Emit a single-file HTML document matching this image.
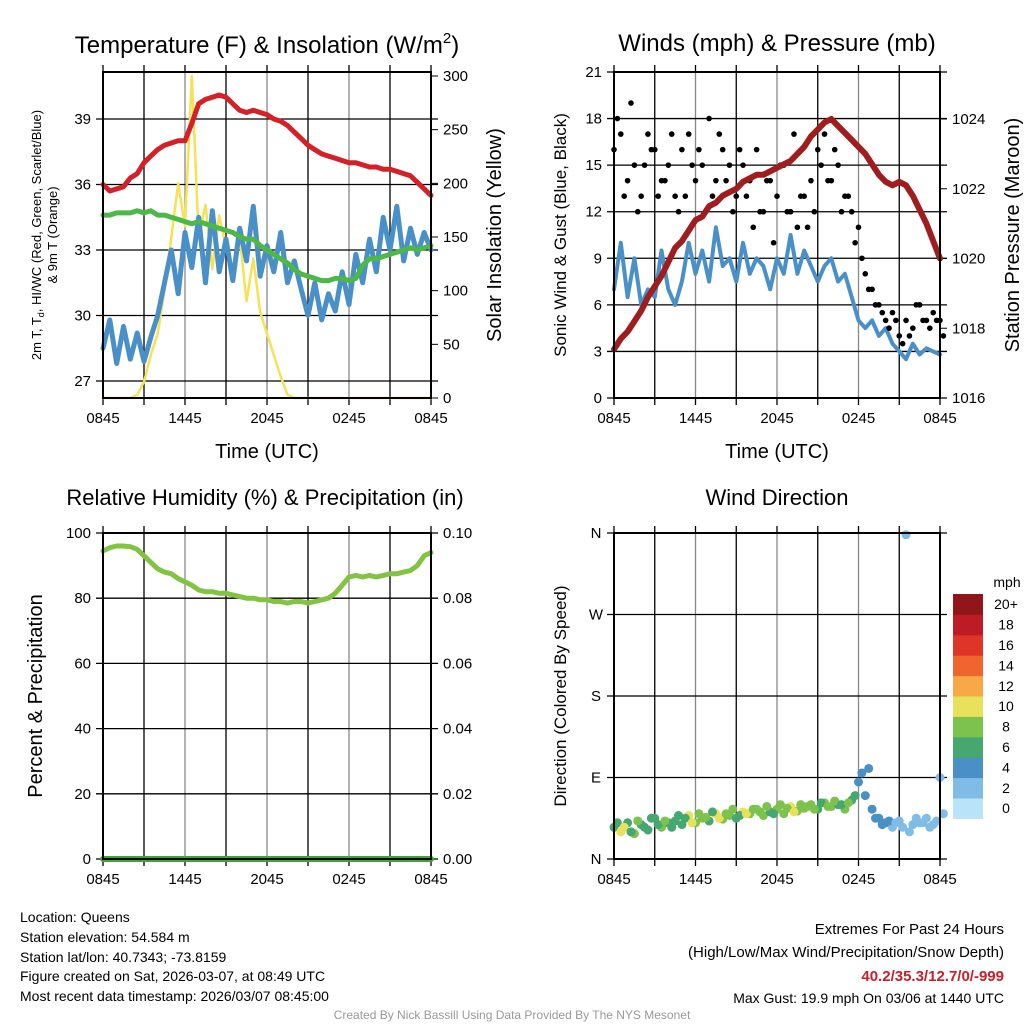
<!DOCTYPE html>
<html><head><meta charset="utf-8"><style>
body{margin:0;background:#fff;}
svg text{font-family:"Liberation Sans",Arial,sans-serif;fill:#000;}
</style></head><body>
<svg id="c" width="1024" height="1024" xmlns="http://www.w3.org/2000/svg"></svg>
<script>
const temp=[36.0,35.7,35.8,35.9,36.3,36.5,37.0,37.3,37.6,37.8,37.9,38.0,38.0,38.8,39.7,39.9,40.0,40.1,40.0,39.7,39.4,39.3,39.4,39.3,39.2,39.0,38.9,38.7,38.4,38.1,37.8,37.6,37.4,37.3,37.2,37.1,37.0,37.0,36.9,36.8,36.8,36.7,36.7,36.6,36.5,36.4,36.1,35.8,35.5];
const dewp=[34.6,34.6,34.7,34.7,34.7,34.8,34.7,34.8,34.6,34.6,34.5,34.4,34.3,34.2,34.3,34.2,34.1,34.0,33.9,33.8,33.6,33.5,33.5,33.2,33.0,32.8,32.6,32.4,32.1,31.9,31.8,31.7,31.6,31.6,31.7,31.7,31.6,31.7,32.3,32.6,32.6,32.7,32.8,32.9,33.0,33.1,33.0,33.1,33.2];
const chill=[28.5,29.8,27.8,29.5,28.0,29.2,27.9,29.0,30.0,31.5,33.0,31.0,33.8,32.2,34.5,31.5,34.8,32.0,33.5,31.6,34.0,32.5,35.0,31.8,33.2,32.0,33.8,31.5,32.5,31.2,30.0,31.5,29.8,31.0,30.2,32.0,30.5,32.8,31.5,33.5,32.0,34.5,33.0,35.0,32.5,34.0,32.8,33.8,33.0];
const solar=[0,0,0,0,0,3,15,40,60,100,150,200,160,300,150,180,120,170,140,110,150,90,130,80,60,40,20,3,0,0,0,0,0,0,0,0,0,0,0,0,0,0,0,0,0,0,0,0,0];
const wind=[7,10,6.5,9,6,7,6.5,9.5,7,6,7.5,10,8,9.5,7.5,11,8.5,9,7.5,10,8,9,8.5,7,9,8,10.5,8,9.5,8.5,7.5,8.5,9,7.5,8,6.5,5,4.5,5,4,4.5,3.5,3,2.5,3.5,2.8,3.2,3,2.8];
const gustA=[16,17,14,15,13,17,16,14,15,13,16,17,14,15,18,14,16,15,13,15,14,16,12,14,13,15,12,11,13,14,16,17,14,15,13,12,11,8,7,6,5,5.5,4,5,4.5,6,5,5.5,5];
const gustB=[18,13,19,12,15,16,13,14,17,12,13,15,16,12,13,17,14,12,16,13,11,12,14,10,15,12,17,13,11,12,15,14,16,12,13,10,9,7,6,5.5,4.5,5,3.5,4,6,5,4.5,5,4];
const pres=[1017.4,1017.7,1017.9,1018.2,1018.5,1018.9,1019.2,1019.5,1019.9,1020.3,1020.5,1020.8,1021.1,1021.2,1021.5,1021.6,1021.8,1021.9,1022.0,1022.2,1022.3,1022.4,1022.4,1022.5,1022.6,1022.7,1022.8,1023.0,1023.2,1023.5,1023.7,1023.9,1024.0,1023.8,1023.6,1023.4,1023.2,1023.0,1022.7,1022.4,1022.2,1022.1,1022.2,1022.1,1021.8,1021.4,1021.0,1020.5,1020.0];
const rh=[94.5,95.5,96,96,95.8,95,93,91,89,88,87.5,86,85,84,82.5,82,82,81.5,81.5,81,80.5,80,80,79.5,79.5,79,79,78.5,79,79,78.5,79,79.5,80,81.5,84,86.5,87,86.5,87,86.5,87,87.5,87.5,88,88.5,90,93,94];
const precip=new Array(49).fill(0);
const dirA=[35,30,40,28,38,32,45,35,40,42,38,48,40,45,42,50,44,48,45,52,50,55,48,52,55,50,58,53,56,60,55,62,58,60,55,65,85,70,55,45,40,35,42,358,38,40,45,38,90];
const dirB=[40,35,30,42,35,45,38,42,35,48,45,40,50,46,52,45,50,55,48,50,55,52,58,50,60,56,52,60,58,55,62,58,64,60,62,70,95,100,45,38,42,40,35,30,45,40,35,42,50];
const hours=[0,3,6,9,12,15,18,21,24];
const hourLabels=["0845","1445","2045","0245","0845"];
const tTicks=[27,30,33,36,39];
const sTicks=[0,50,100,150,200,250,300];
const wTicks=[0,3,6,9,12,15,18,21];
const pTicks=[1016,1018,1020,1022,1024];
const rhTicks=[0,20,40,60,80,100];
const prTicks=["0.00","0.02","0.04","0.06","0.08","0.10"];
const dirTicks=["N","E","S","W","N"];
const cbLabels=["0","2","4","6","8","10","12","14","16","18","20+"];
const cbColors=["#b8e3f8","#80bde6","#4a8fc6","#47a770","#7cc24c","#e8e15c","#f7a945","#f0652e","#de3528","#bd1c25","#901619"];

const NS="http://www.w3.org/2000/svg";
const svg=document.getElementById('c');
function el(tag,attrs,parent,text){const e=document.createElementNS(NS,tag);for(const k in attrs)e.setAttribute(k,attrs[k]);if(text!==undefined)e.textContent=text;(parent||svg).appendChild(e);return e;}
function lin(d0,d1,r0,r1){return v=>r0+(v-d0)/(d1-d0)*(r1-r0);}
function txt(x,y,s,size,anchor,name,rot,extra){const a={x:x,y:y,'font-size':size,'text-anchor':anchor||'middle'};if(rot)a.transform=`rotate(${rot} ${x} ${y})`;if(extra)Object.assign(a,extra);const t=el('text',a,svg,s);return t;}

function frame(x0,y0,x1,y1,name){
  const g=el('g',{});
  const xs=lin(0,24,x0,x1);
  hours.forEach((h,i)=>{const X=xs(h);el('line',{x1:X,y1:y0,x2:X,y2:y1,stroke:(i%2==0)?'#888':'#000','stroke-width':1.3},g);
    el('line',{x1:X,y1:y1,x2:X,y2:y1+7,stroke:'#000','stroke-width':1.3},g);el('line',{x1:X,y1:y0,x2:X,y2:y0-7,stroke:'#000','stroke-width':1.3},g);});
  hourLabels.forEach((l,i)=>{txt(xs(i*6),y1+25,l,15,'middle','x-tick-label');});
  return {g,xs};
}
function hgrid(g,x0,x1,Y){el('line',{x1:x0-7,y1:Y,x2:x1+7,y2:Y,stroke:'#000','stroke-width':1.3},g);}
function border(g,x0,y0,x1,y1){el('rect',{x:x0,y:y0,width:x1-x0,height:y1-y0,fill:'none',stroke:'#000','stroke-width':2},g);}
function line(g,xs,ys,arr,color,w,name){const p=el('polyline',{points:arr.map((v,i)=>xs(i*0.5).toFixed(1)+','+ys(v).toFixed(1)).join(' '),fill:'none',stroke:color,'stroke-width':w,'stroke-linejoin':'round','stroke-linecap':'round'},g);}

// Panel 1
(function(){const x0=103,y0=72,x1=431,y1=398;const {g,xs}=frame(x0,y0,x1,y1,'temperature-panel');
 const ty=lin(27,39,381,119), sy=lin(0,300,398,76);
 tTicks.forEach(v=>{hgrid(g,x0,x1,ty(v));txt(x0-12,ty(v)+5,String(v),15,'end','y-tick-label');});
 sTicks.forEach(v=>{el('line',{x1:x1,y1:sy(v),x2:x1+7,y2:sy(v),stroke:'#000'},g);txt(x1+12,sy(v)+5,String(v),15,'start','y2-tick-label');});
 line(g,xs,sy,solar,'#f7e154',2.5,'solar-line');
 line(g,xs,ty,chill,'#4a90c8',5,'windchill-line');
 line(g,xs,ty,dewp,'#4db848',5,'dewpoint-line');
 line(g,xs,ty,temp,'#d42027',5,'temperature-line');
 border(g,x0,y0,x1,y1);
 txt(267,53,'',24,'middle','panel-title').innerHTML='Temperature (F) &amp; Insolation (W/m<tspan font-size="15" dy="-10">2</tspan><tspan dy="10">)</tspan>';
 txt(267,458,'Time (UTC)',20,'middle','x-axis-title');
 txt(41,235,'',13,'middle','y-axis-title',-90).innerHTML='2m T, T<tspan font-size="9" dy="3">d</tspan><tspan dy="-3">, HI/WC (Red, Green, Scarlet/Blue)</tspan>';
 txt(57,235,'& 9m T (Orange)',13,'middle','y-axis-title-line2',-90);
 txt(501,235,'Solar Insolation (Yellow)',20,'middle','y2-axis-title',-90);
})();
// Panel 2
(function(){const x0=614,y0=72,x1=940,y1=398;const {g,xs}=frame(x0,y0,x1,y1,'winds-panel');
 const wy=lin(0,21,398,72), py=lin(1016,1024,398,119);
 wTicks.forEach(v=>{hgrid(g,x0,x1,wy(v));txt(x0-12,wy(v)+5,String(v),15,'end','y-tick-label');});
 pTicks.forEach(v=>{el('line',{x1:x1,y1:py(v),x2:x1+7,y2:py(v),stroke:'#000'},g);txt(x1+12,py(v)+5,String(v),15,'start','y2-tick-label');});
 line(g,xs,wy,wind,'#4a90c8',4,'wind-line');
 [gustA,gustB].forEach((arr,k)=>arr.forEach((v,i)=>{const c=el('circle',{cx:xs(i*0.5+k*0.25),cy:wy(v),r:2.8,fill:'#000'},g);}));
 line(g,xs,py,pres,'#a01d1f',6,'pressure-line');
 border(g,x0,y0,x1,y1);
 txt(777,51,'Winds (mph) & Pressure (mb)',24,'middle','panel-title');
 txt(777,458,'Time (UTC)',20,'middle','x-axis-title');
 txt(566,235,'Sonic Wind & Gust (Blue, Black)',17,'middle','y-axis-title',-90);
 txt(1019,235,'Station Pressure (Maroon)',20,'middle','y2-axis-title',-90);
})();
// Panel 3
(function(){const x0=103,y0=533,x1=431,y1=859;const {g,xs}=frame(x0,y0,x1,y1,'humidity-panel');
 const ry=lin(0,100,859,533);
 rhTicks.forEach((v,i)=>{hgrid(g,x0,x1,ry(v));txt(x0-12,ry(v)+5,String(v),15,'end','y-tick-label');txt(x1+12,ry(v)+5,prTicks[i],15,'start','y2-tick-label');});
 line(g,xs,ry,rh,'#82c341',5,'rh-line');
 line(g,xs,v=>ry(v*1000),precip,'#3fa535',6,'precip-line');
 border(g,x0,y0,x1,y1);
 txt(265,505,'Relative Humidity (%) & Precipitation (in)',22,'middle','panel-title');
 txt(42,696,'Percent & Precipitation',20,'middle','y-axis-title',-90);
})();
// Panel 4
(function(){const x0=614,y0=533,x1=940,y1=859;const {g,xs}=frame(x0,y0,x1,y1,'direction-panel');
 const dy=lin(0,360,859,533);
 dirTicks.forEach((l,i)=>{hgrid(g,x0,x1,dy(i*90));txt(x0-18,dy(i*90)+5,l,15,'middle','y-tick-label');});
 function col(s){return cbColors[Math.min(10,Math.floor(s/2))];}
 [dirA,dirB].forEach((arr,k)=>arr.forEach((v,i)=>{const c=el('circle',{cx:xs(i*0.5+k*0.25),cy:dy(v),r:4.5,fill:col(wind[i])},g);}));
 border(g,x0,y0,x1,y1);
 txt(777,505,'Wind Direction',22,'middle','panel-title');
 txt(566,696,'Direction (Colored By Speed)',17,'middle','y-axis-title',-90);
 const cb=el('g',{});
 const h=20.4,top=594;
 cbColors.forEach((c,i)=>{const Y=top+(10-i)*h;el('rect',{x:953,y:Y,width:30,height:h+0.5,fill:c},cb);txt(1006,Y+h/2+5,cbLabels[i],14,'middle','colorbar-label');});
 txt(1007,587,'mph',14,'middle','colorbar-unit');
})();
// footer
txt(20,922,'Location: Queens',14,'start','location-text');
txt(20,942,'Station elevation: 54.584 m',14,'start','elevation-text');
txt(20,962,'Station lat/lon: 40.7343; -73.8159',14,'start','latlon-text');
txt(20,981,'Figure created on Sat, 2026-03-07, at 08:49 UTC',14,'start','created-text');
txt(20,1001,'Most recent data timestamp: 2026/03/07 08:45:00',14,'start','timestamp-text');
txt(1004,934,'Extremes For Past 24 Hours',15,'end','extremes-title');
txt(1004,957,'(High/Low/Max Wind/Precipitation/Snow Depth)',15,'end','extremes-subtitle');
txt(1004,981,'40.2/35.3/12.7/0/-999',15,'end','extremes-values',null,{'font-weight':'bold',style:'fill:#c8202a'});
txt(1004,1003,'Max Gust: 19.9 mph On 03/06 at 1440 UTC',14,'end','max-gust-text');
txt(512,1019,'Created By Nick Bassill Using Data Provided By The NYS Mesonet',12,'middle','credit-text',null,{style:'fill:#999'});
</script>
</body></html>
